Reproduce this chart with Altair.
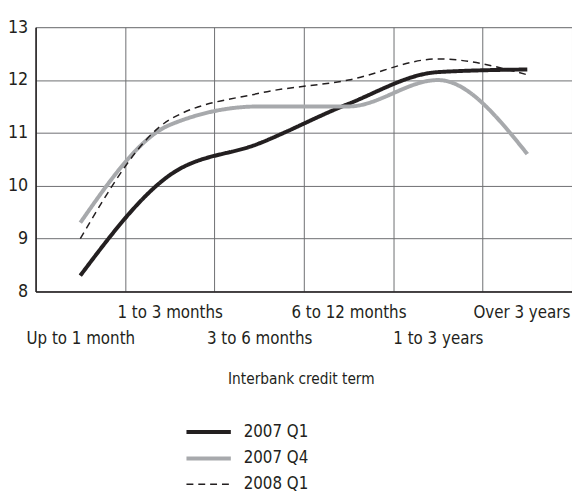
import altair as alt
import pandas as pd

terms = ["Up to 1 month", "1 to 3 months", "3 to 6 months",
         "6 to 12 months", "1 to 3 years", "Over 3 years"]
lower_row_terms = ["Up to 1 month", "3 to 6 months", "1 to 3 years"]
series_names = ["2007 Q1", "2007 Q4", "2008 Q1"]
q1_2007 = [8.3, 10.2, 10.8, 11.55, 12.15, 12.2]
q4_2007 = [9.3, 11.15, 11.5, 11.5, 12.0, 10.6]
q1_2008 = [9.0, 11.25, 11.75, 12.0, 12.4, 12.1]
y_ticks = [8, 9, 10, 11, 12, 13]

rows = []
for name, vals in zip(series_names, [q1_2007, q4_2007, q1_2008]):
    for t, v in zip(terms, vals):
        rows.append({"term": t, "rate": v, "series": name})
df = pd.DataFrame(rows)

FONT = "DejaVu Sans Condensed, Liberation Sans"
FS = 17
TXT = "#231f20"
lower_js = "[" + ",".join("'" + t + "'" for t in lower_row_terms) + "]"

x = alt.X(
    "term:N", sort=terms,
    scale=alt.Scale(type="band", paddingInner=0, paddingOuter=0),
    axis=alt.Axis(
        title="Interbank credit term", labelAngle=0, tickBand="extent",
        ticks=False, grid=True, gridColor="#6d6e71", gridWidth=1,
        domainColor=TXT, domainWidth=1.5,
        labelExpr="indexof(" + lower_js + ", datum.value) >= 0 ? ['', datum.label] : datum.label",
        labelBaseline="top", labelLineHeight=27, labelPadding=13, labelOverlap=False,
        labelOffset={"condition": {"test": "datum.value === 'Over 3 years'", "value": -6},
                     "value": 0},
        labelFont=FONT, labelFontSize=FS, labelColor=TXT,
        titleFont=FONT, titleFontSize=15.5, titleFontWeight="normal", titleColor=TXT,
        titleY=81, titleBaseline="top", titleX=269,
    ),
)
y = alt.Y(
    "rate:Q",
    scale=alt.Scale(domain=[8, 13], nice=False, zero=False),
    axis=alt.Axis(
        values=y_ticks, title=None, ticks=False, tickSize=0, labelPadding=8,
        grid=True, gridColor="#6d6e71", gridWidth=1,
        domainColor=TXT, domainWidth=1.5,
        labelFont=FONT, labelFontSize=FS + 1, labelColor=TXT,
    ),
)

legend = alt.Legend(
    title=None, orient="none", legendX=164.5, legendY=399.5,
    symbolType="M-2.5,0H2.5", symbolSize=324, labelOffset=24.5,
    labelFont=FONT, labelFontSize=FS, labelColor=TXT, rowPadding=8,
)

chart = alt.Chart(df).mark_line(interpolate="monotone").encode(
    x=x, y=y,
    color=alt.Color("series:N", scale=alt.Scale(domain=series_names,
                                                range=["#231f20", "#a7a9ac", "#231f20"]),
                    legend=legend),
    strokeDash=alt.StrokeDash("series:N", scale=alt.Scale(domain=series_names,
                                                          range=[[1, 0], [1, 0], [7, 5]]),
                              legend=legend),
    strokeWidth=alt.StrokeWidth("series:N", scale=alt.Scale(type="ordinal", domain=series_names,
                                                            range=[4, 4, 1.5]),
                                legend=legend),
).properties(
    width=544, height=268,
    autosize=alt.AutoSizeParams(type="none"),
    padding={"left": 28, "top": 16, "right": 0, "bottom": 203},
).configure_view(stroke=None).configure(background="white")

chart.save("out.html", embed_options={"renderer": "svg", "actions": False})
